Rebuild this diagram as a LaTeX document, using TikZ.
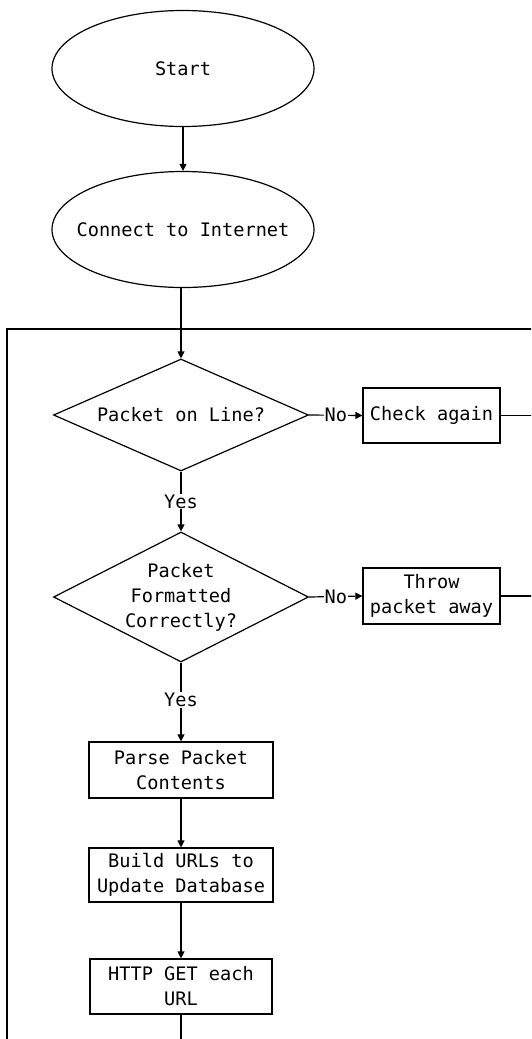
\documentclass[tikz,border=0pt]{standalone}
\usepackage{fontspec}
\setmonofont{DejaVu Sans Mono}
\usetikzlibrary{shapes.geometric,arrows.meta}
\tikzset{
  base/.style={draw=black, line width=1.2pt, font=\ttfamily\fontsize{18.6pt}{25pt}\selectfont, align=center, inner sep=0pt},
  term/.style={base, ellipse, minimum width=262pt, minimum height=116pt},
  decide/.style={base, diamond, minimum width=255pt},
  procbox/.style={base, rectangle},
  conn/.style={line width=1.2pt, -{Triangle[length=7pt,width=7pt]}},
  plain/.style={line width=1.2pt},
  lbl/.style={fill=white, inner sep=1pt, font=\ttfamily\fontsize{18.6pt}{25pt}\selectfont}
}
\begin{document}
\begin{tikzpicture}[x=1pt, y=-1pt]
\useasboundingbox (0,0) rectangle (531,1039);
\clip (0,0) rectangle (531,1039);
\fill[white] (0,0) rectangle (531,1039);
% big frame
\draw[plain] (7,1060) -- (7,329) -- (560,329);
\coordinate (R) at (560,0);
\coordinate (B) at (0,1060);

\node[term] (start) at (183,68.5) {\makebox[0pt]{Start}};
\node[term] (inet) at (183,229.5) {\makebox[0pt]{Connect to Internet}};
\node[decide, aspect=2.28, minimum height=112pt] (d1) at (181,415) {Packet on Line?};
\node[procbox, minimum width=137pt, minimum height=55pt] (check) at (431.5,415.5) {Check again};
\node[decide, aspect=1.96, minimum height=130pt] (d2) at (181,597) {Packet\\Formatted\\Correctly?};
\node[procbox, minimum width=137pt, minimum height=56pt] (throw) at (431.5,596) {Throw\\packet away};
\node[procbox, minimum width=184pt, minimum height=56pt] (parse) at (181,770) {Parse Packet\\Contents};
\node[procbox, minimum width=184pt, minimum height=54pt] (build) at (181,875) {Build URLs to\\Update Database};
\node[procbox, minimum width=182pt, minimum height=55pt] (http) at (181,986.5) {HTTP GET each\\URL};

\draw[conn] (start) -- (inet);
\draw[conn] (inet.south -| d1.north) -- (d1.north);
\draw[conn] (d1.east) -- node[lbl] {No} (check.west);
\draw[conn] (d1.south) -- node[lbl] {Yes} (d2.north);
\draw[conn] (d2.east) -- node[lbl] {No} (throw.west);
\draw[conn] (d2.south) -- node[lbl, pos=0.47] {Yes} (parse.north);
\draw[conn] (parse) -- (build);
\draw[conn] (build) -- (http);
\draw[plain] (http.south) -- (http.south |- B);
\draw[plain] (check.east) -- (check.east -| R);
\draw[plain] (throw.east) -- (throw.east -| R);
\end{tikzpicture}
\end{document}
